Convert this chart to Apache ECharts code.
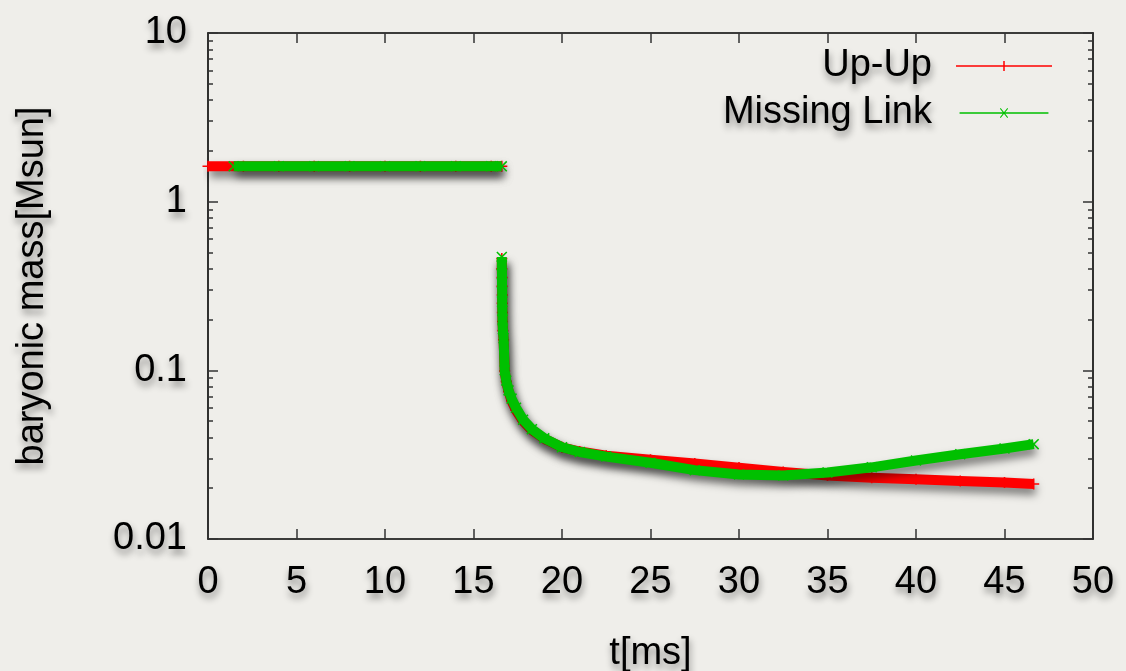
<!DOCTYPE html>
<html>
<head>
<meta charset="utf-8">
<script src="https://cdn.jsdelivr.net/npm/echarts@6/dist/echarts.min.js"></script>
<style>
  html, body { margin: 0; padding: 0; background: #efeeea; }
  #chart { width: 1126px; height: 671px; }
</style>
</head>
<body>
<div id="chart"></div>
<script>
// Baryonic mass of the remnant vs time for two models
const seriesNames = ['Up-Up', 'Missing Link'];

// quasi-stationary phase before the drop
const upFlatT = [0, 2, 4, 6, 8, 10, 12, 14, 16, 16.6];
const upFlatM = [1.62, 1.62, 1.62, 1.62, 1.62, 1.62, 1.62, 1.62, 1.62, 1.62];
const mlFlatT = [1.45, 4, 6, 8, 10, 12, 14, 16, 16.6];
const mlFlatM = [1.62, 1.62, 1.62, 1.62, 1.62, 1.62, 1.62, 1.62, 1.62];

// phase after the drop (t in ms, mass in Msun)
const dropT = [16.60, 16.60, 16.61, 16.61, 16.62, 16.62, 16.63, 16.64, 16.66, 16.70,
               16.76, 16.85, 16.98, 17.15, 17.4, 17.8, 18.3, 19.0, 20.0, 21.0,
               22.5, 25, 27.5, 30, 32.5, 35, 37.5, 40, 42.5, 45, 46.65];
const upDropM = [0.46, 0.40, 0.355, 0.315, 0.28, 0.25, 0.22, 0.195, 0.172, 0.152,
                 0.099, 0.086, 0.075, 0.066, 0.058, 0.050, 0.0442, 0.0393, 0.0350, 0.0330,
                 0.0312, 0.0295, 0.0280, 0.0265, 0.0250, 0.0238, 0.0231, 0.0226, 0.0221, 0.0216, 0.0212];
const mlDropM = [0.47, 0.42, 0.37, 0.33, 0.29, 0.255, 0.225, 0.20, 0.175, 0.155,
                 0.100, 0.087, 0.076, 0.068, 0.060, 0.051, 0.0448, 0.0395, 0.0350, 0.0328,
                 0.0308, 0.0283, 0.0256, 0.0241, 0.0238, 0.0248, 0.0266, 0.0292, 0.0318, 0.0344, 0.0365];

const xTicks = { min: 0, max: 50, interval: 5 };
const yRange = { min: 0.01, max: 10 };

const FONT = 'Liberation Sans, Arial, Helvetica, sans-serif';
const RED = '#ff0000';
const GREEN = '#00c000';

const W = 1126;
const GRID = { left: 208, top: 33, right: 33, bottom: 132 };

const plusPath = 'path://M4.3,0H5.7V10H4.3ZM0,4.3H10V5.7H0Z';
const crossPath = 'path://M0,1L1,0L10,9L9,10ZM9,0L10,1L1,10L0,9Z';
const plusIcon = 'path://M0,4.25H96V5.75H0ZM47.25,0H48.75V10H47.25Z';
const crossIcon = 'path://M0,4.25H96V5.75H0ZM43.6,0.4L44.4,-0.4L52.4,9.6L51.6,10.4ZM51.6,-0.4L52.4,0.4L44.4,10.4L43.6,9.6Z';

function pairs(ts, ms) { return ts.map((t, i) => [t, ms[i]]); }

const shadowText = {
  textShadowColor: 'rgba(0,0,0,0.45)',
  textShadowBlur: 7,
  textShadowOffsetX: 1,
  textShadowOffsetY: 5
};
const textBase = Object.assign({ fontFamily: FONT, fontSize: 38, color: '#000' }, shadowText);

const lineShadow = {
  shadowColor: 'rgba(0,0,0,0.5)',
  shadowBlur: 8,
  shadowOffsetX: 2,
  shadowOffsetY: 6
};

function makeSeries(name, color, symbol, flatT, flatM, dropM, z) {
  const data = pairs(flatT, flatM)
    .concat([[16.62, '-']])
    .concat(pairs(dropT, dropM));
  return {
    name: name,
    type: 'line',
    xAxisIndex: 0,
    yAxisIndex: 0,
    z: z,
    data: data,
    clip: false,
    connectNulls: false,
    symbol: symbol,
    symbolSize: 11,
    showSymbol: true,
    color: color,
    lineStyle: Object.assign({ color: color, width: 10, cap: 'butt', join: 'round' }, lineShadow),
    itemStyle: { color: color },
    emphasis: { disabled: true },
    animation: false
  };
}

const axisLine = { show: true, onZero: false, lineStyle: { color: '#000', width: 1.6 } };
const tickStyle = { color: '#333', width: 1.5 };
const outwardTick = { show: true, inside: false, length: 10, lineStyle: tickStyle };
const outwardMinor = { show: true, splitNumber: 9, length: 5, lineStyle: tickStyle };

const logAxisBase = {
  type: 'log',
  logBase: 10,
  min: yRange.min,
  max: yRange.max,
  splitLine: { show: false },
  minorSplitLine: { show: false }
};
const hiddenX = { type: 'value', show: false, min: 1, max: 2 };
const gridCommon = { top: GRID.top, bottom: GRID.bottom, containLabel: false, outerBoundsMode: 'none' };

const option = {
  backgroundColor: '#efeeea',
  animation: false,
  grid: [
    // main plot
    Object.assign({}, gridCommon, { left: GRID.left, right: GRID.right }),
    // strip ending at the plot's left edge: its right-side ticks point into the plot
    Object.assign({}, gridCommon, { left: 0, width: GRID.left }),
    // strip starting at the plot's right edge: its left-side ticks point into the plot
    Object.assign({}, gridCommon, { left: W - GRID.right, right: 0 })
  ],
  legend: {
    right: 74,
    top: 47,
    orient: 'vertical',
    align: 'right',
    padding: 0,
    itemGap: 9,
    itemWidth: 96,
    itemHeight: 10,
    selectedMode: false,
    itemStyle: { borderWidth: 0, shadowBlur: 0 },
    lineStyle: { width: 0 },
    textStyle: Object.assign({}, textBase, { lineHeight: 36, padding: [0, 19, 0, 0] }),
    data: [
      { name: seriesNames[0], icon: plusIcon },
      { name: seriesNames[1], icon: crossIcon }
    ]
  },
  xAxis: [
    {
      gridIndex: 0,
      type: 'value',
      position: 'bottom',
      min: xTicks.min, max: xTicks.max, interval: xTicks.interval,
      name: 't[ms]',
      nameLocation: 'middle',
      nameGap: 96,
      nameTextStyle: Object.assign({}, textBase, { lineHeight: 38 }),
      axisLine: axisLine,
      axisTick: { show: true, inside: true, length: 10, lineStyle: tickStyle },
      splitLine: { show: false },
      axisLabel: Object.assign({}, textBase, { margin: 25, lineHeight: 38 })
    },
    {
      gridIndex: 0,
      type: 'value',
      position: 'top',
      min: xTicks.min, max: xTicks.max, interval: xTicks.interval,
      axisLine: axisLine,
      axisTick: { show: true, inside: true, length: 10, lineStyle: tickStyle },
      splitLine: { show: false },
      axisLabel: { show: false }
    },
    Object.assign({ gridIndex: 1 }, hiddenX),
    Object.assign({ gridIndex: 2 }, hiddenX)
  ],
  yAxis: [
    // left edge: line, labels and title
    Object.assign({}, logAxisBase, {
      gridIndex: 0,
      position: 'left',
      name: 'baryonic mass[Msun]',
      nameLocation: 'middle',
      nameGap: 156,
      nameTextStyle: Object.assign({}, textBase, { lineHeight: 38 }),
      axisLine: axisLine,
      axisTick: { show: false },
      minorTick: { show: false },
      axisLabel: Object.assign({}, textBase, { margin: 21 })
    }),
    // right edge line
    Object.assign({}, logAxisBase, {
      gridIndex: 0,
      position: 'right',
      axisLine: axisLine,
      axisTick: { show: false },
      minorTick: { show: false },
      axisLabel: { show: false }
    }),
    // ticks along the left edge
    Object.assign({}, logAxisBase, {
      gridIndex: 1,
      position: 'right',
      axisLine: { show: false, onZero: false },
      axisTick: outwardTick,
      minorTick: outwardMinor,
      axisLabel: { show: false }
    }),
    // ticks along the right edge
    Object.assign({}, logAxisBase, {
      gridIndex: 2,
      position: 'left',
      axisLine: { show: false, onZero: false },
      axisTick: outwardTick,
      minorTick: outwardMinor,
      axisLabel: { show: false }
    })
  ],
  series: [
    makeSeries(seriesNames[0], RED, plusPath, upFlatT, upFlatM, upDropM, 2),
    makeSeries(seriesNames[1], GREEN, crossPath, mlFlatT, mlFlatM, mlDropM, 3)
  ]
};

const chart = echarts.init(document.getElementById('chart'), null, { renderer: 'canvas' });
chart.setOption(option);
</script>
</body>
</html>
